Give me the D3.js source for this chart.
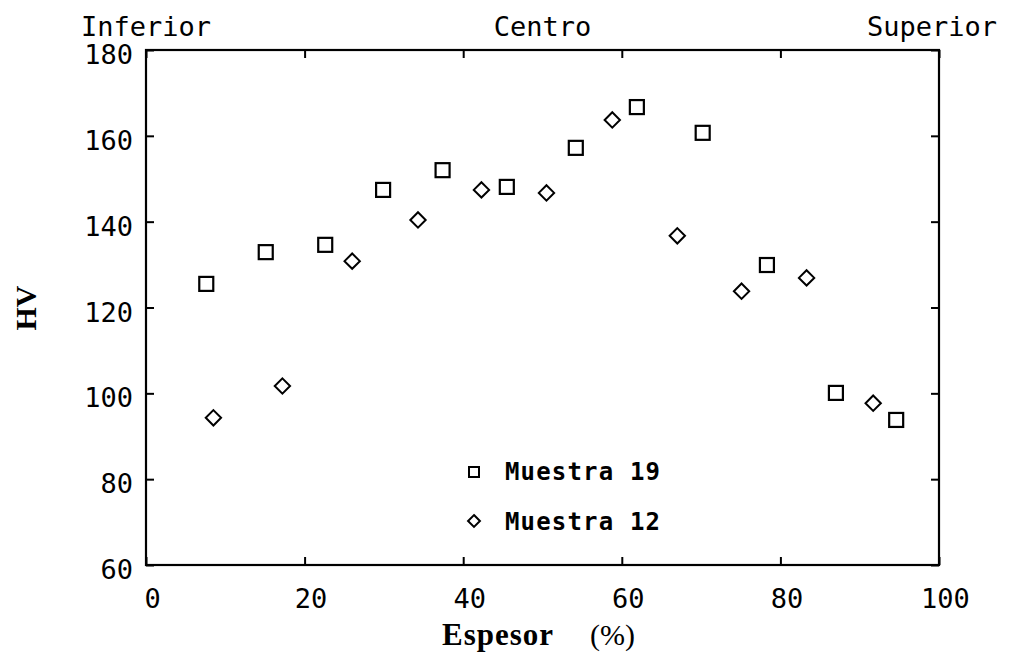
<!DOCTYPE html>
<meta charset="utf-8">
<script src="https://d3js.org/d3.v7.min.js"></script>

<style>
  body { margin: 0; background: #fff; }
  .mono { font-family: "DejaVu Sans Mono", "Liberation Mono", monospace; }
</style>

<body>
  <svg id='svg'></svg>
</body>

<script>
  let width = 1014;
  let height = 658;

  // Muestra 19 (squares)
  let m19x = [7.6, 15.1, 22.6, 29.9, 37.4, 45.5, 54.2, 61.9, 70.2, 78.3, 87.0, 94.6];
  let m19y = [125.5, 132.9, 134.6, 147.4, 152.0, 148.1, 157.2, 166.7, 160.7, 129.9, 100.1, 93.8];

  // Muestra 12 (diamonds)
  let m12x = [8.5, 17.2, 26.0, 34.3, 42.3, 50.5, 58.8, 67.0, 75.1, 83.3, 91.7];
  let m12y = [94.3, 101.7, 130.8, 140.4, 147.4, 146.7, 163.7, 136.7, 123.8, 126.9, 97.7];

  let xTicks = [0, 20, 40, 60, 80, 100];
  let yTicks = [60, 80, 100, 120, 140, 160, 180];
  let zoneLabels = ['Inferior', 'Centro', 'Superior'];
  let zonePos = [0, 50, 100];
  let seriesNames = ['Muestra 19', 'Muestra 12'];

  let svg = d3.select('#svg')
    .attr('width', width)
    .attr('height', height);

  let x = d3.scaleLinear().domain([0, 100]).range([146, 939]);
  let y = d3.scaleLinear().domain([60, 180]).range([565, 50]);

  function styleAxis(g) {
    g.select('.domain').remove();
    g.selectAll('line').attr('stroke', '#000').attr('stroke-width', 2);
    g.selectAll('text')
      .attr('class', 'mono')
      .attr('font-family', '"DejaVu Sans Mono", monospace')
      .attr('font-size', 27)
      .attr('fill', '#000');
  }

  // frame
  svg.append('rect')
    .attr('x', x(0)).attr('y', y(180))
    .attr('width', x(100) - x(0)).attr('height', y(60) - y(180))
    .attr('fill', 'none').attr('stroke', '#000').attr('stroke-width', 2.2);

  svg.append('g')
    .attr('transform', `translate(0,${y(60)})`)
    .call(d3.axisBottom(x).tickValues(xTicks).tickSize(-8).tickPadding(24))
    .call(styleAxis)
    .selectAll('text').attr('dx', 6);

  svg.append('g')
    .attr('transform', `translate(0,${y(180)})`)
    .call(d3.axisTop(x).tickValues(xTicks).tickSize(-8).tickFormat(''))
    .call(styleAxis);

  svg.append('g')
    .attr('transform', `translate(${x(0)},0)`)
    .call(d3.axisLeft(y).tickValues(yTicks).tickSize(-8).tickPadding(13))
    .call(styleAxis)
    .selectAll('text').attr('dy', '0.5em');

  svg.append('g')
    .attr('transform', `translate(${x(100)},0)`)
    .call(d3.axisRight(y).tickValues(yTicks).tickSize(-8).tickFormat(''))
    .call(styleAxis);

  // zone labels above the frame
  svg.selectAll('.zone')
    .data(zoneLabels)
    .enter()
    .append('text')
    .attr('class', 'mono')
    .attr('x', (d, i) => x(zonePos[i]) - (i == 2 ? 7 : 0))
    .attr('y', 36)
    .attr('text-anchor', 'middle')
    .attr('font-size', 27)
    .text(d => d);

  // axis titles
  svg.append('text')
    .attr('transform', 'translate(36,308) rotate(-90)')
    .attr('text-anchor', 'middle')
    .attr('font-family', '"Liberation Serif", serif')
    .attr('font-weight', 'bold')
    .attr('font-size', 30)
    .text('HV');

  svg.append('text')
    .attr('x', 442).attr('y', 645)
    .attr('font-family', '"Liberation Serif", serif')
    .attr('font-weight', 'bold')
    .attr('font-size', 31)
    .attr('textLength', 111)
    .text('Espesor');

  svg.append('text')
    .attr('x', 590).attr('y', 645)
    .attr('font-family', '"Liberation Serif", serif')
    .attr('font-size', 30)
    .text('(%)');

  // markers
  let sq = svg.append('g');
  sq.selectAll('rect')
    .data(m19x)
    .enter()
    .append('rect')
    .attr('x', (d) => x(d) - 7)
    .attr('y', (d, i) => y(m19y[i]) - 7)
    .attr('width', 14).attr('height', 14)
    .attr('fill', 'none').attr('stroke', '#000').attr('stroke-width', 2.2);

  let diamond = d3.symbol().type(d3.symbolDiamond2).size(150);
  let dm = svg.append('g');
  dm.selectAll('path')
    .data(m12x)
    .enter()
    .append('path')
    .attr('d', diamond)
    .attr('transform', (d, i) => `translate(${x(d)},${y(m12y[i])})`)
    .attr('fill', 'none').attr('stroke', '#000').attr('stroke-width', 2);

  // legend
  let legend = svg.append('g');
  legend.append('rect')
    .attr('x', 469).attr('y', 467).attr('width', 10).attr('height', 10)
    .attr('fill', 'none').attr('stroke', '#000').attr('stroke-width', 2);
  legend.append('path')
    .attr('d', d3.symbol().type(d3.symbolDiamond2).size(90))
    .attr('transform', 'translate(474,521)')
    .attr('fill', 'none').attr('stroke', '#000').attr('stroke-width', 2);
  legend.selectAll('text')
    .data(seriesNames)
    .enter()
    .append('text')
    .attr('class', 'mono')
    .attr('x', 505)
    .attr('y', (d, i) => 480 + i * 50)
    .attr('font-size', 24)
    .attr('font-weight', 'bold')
    .attr('textLength', 155)
    .text(d => d);
</script>
